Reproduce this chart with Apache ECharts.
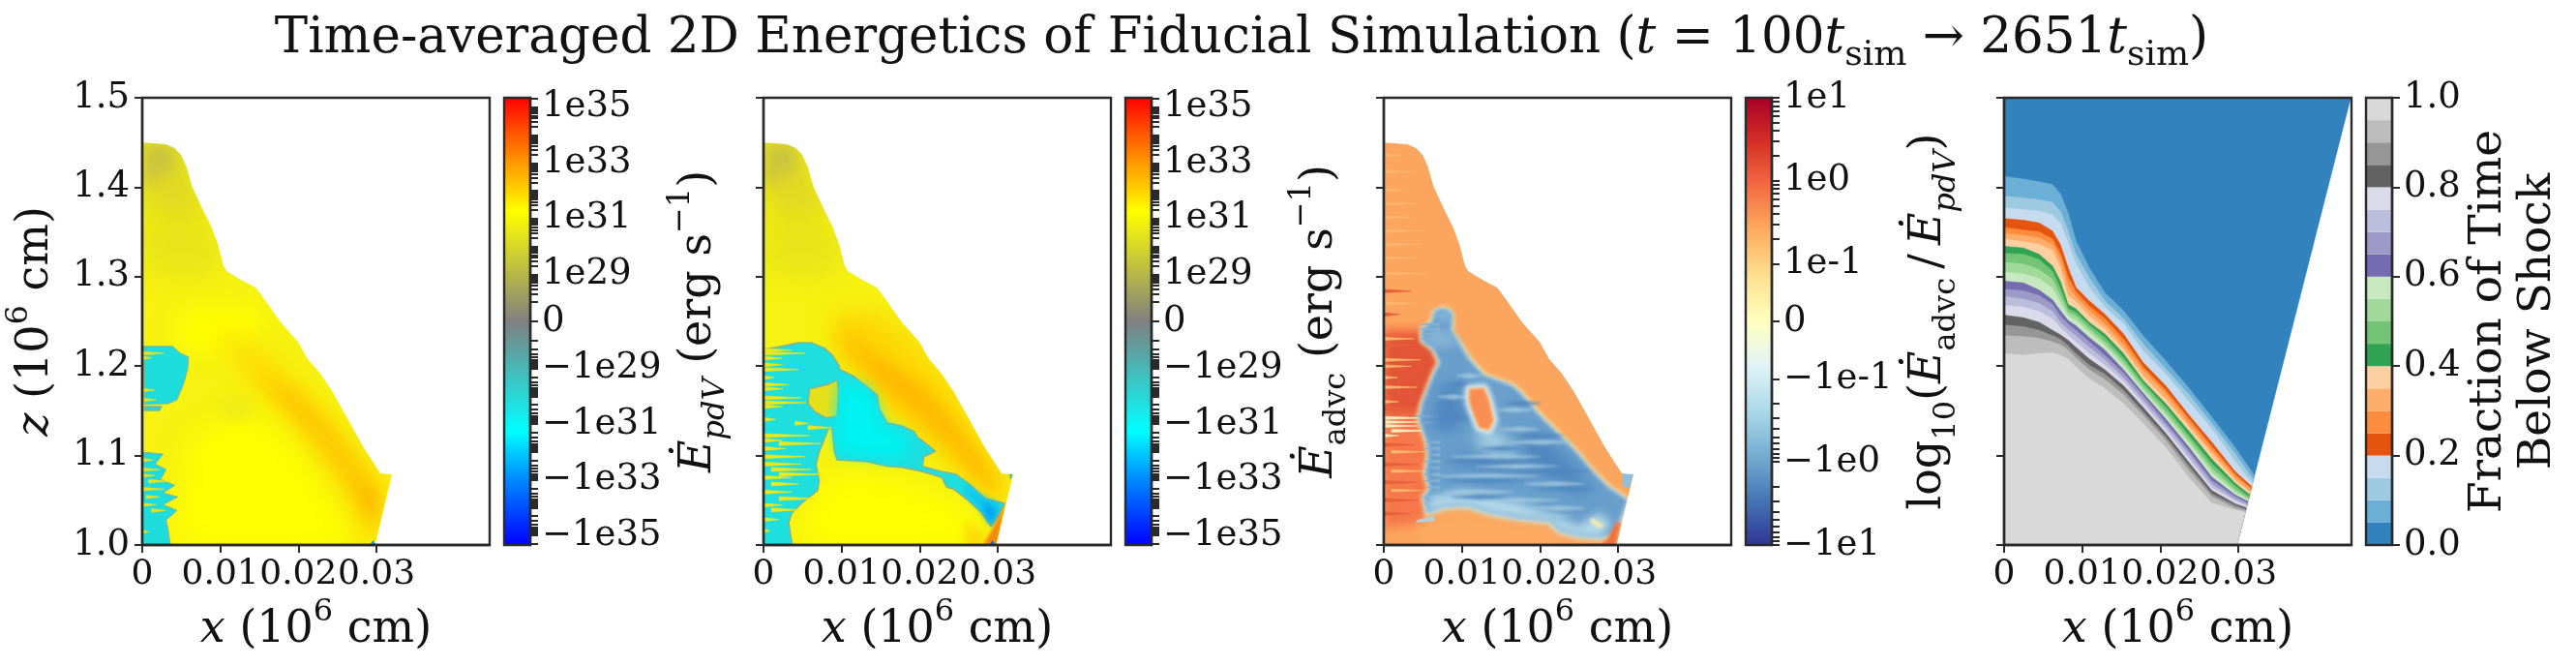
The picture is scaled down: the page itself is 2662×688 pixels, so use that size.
<!DOCTYPE html>
<html>
<head>
<meta charset="utf-8">
<script src="https://cdn.jsdelivr.net/npm/echarts@6/dist/echarts.min.js"></script>
<style>html,body{margin:0;background:#fff}#main{width:2662px;height:688px}</style>
</head>
<body>
<div id="main"></div>
<script>
// all outlines are x, z in units of 10^6 cm
var shockOutline = [[.0002,1.45],[.00305,1.448],[.00416,1.4436],[.005,1.436],[.00566,1.423],[.00638,1.401],[.00776,1.375],[.00887,1.3555],[.0097,1.336],[.01042,1.312],[.0108,1.3064],[.01275,1.296],[.01453,1.288],[.0158,1.273],[.01774,1.249],[.01996,1.2274],[.02118,1.208],[.02273,1.1927],[.0244,1.171],[.02634,1.1406],[.02828,1.1102],[.0305,1.08],[.032,1.079],[.03105,1.045],[.02983,1],[.0002,1]];
var outsideMask = shockOutline.slice(0,25).concat([[.0445,1],[.0445,1.5],[0,1.5],[0,1.45]]);
var topTintA = shockOutline.slice(0,10).concat([[.007,1.3],[.0002,1.305]]);
var topTintB = shockOutline.slice(0,7).concat([[.005,1.372],[.0002,1.385]]);
var topTintC = [[.0002,1.45],[.00305,1.448],[.00416,1.4436],[.0042,1.42],[.002,1.41],[.0002,1.4]];

// panel 1, pdV work
var p1BrightA = [[.00832,1.2665],[.01442,1.2665],[.01608,1.249],[.01275,1.2274],[.00776,1.2144],[.00388,1.2318],[.00499,1.2578]];
var p1BrightB = [[.0061,1.119],[.01275,1.145],[.01719,1.1276],[.02163,1.0799],[.02551,1.0321],[.028,1],[.00388,1],[.00499,1.0451]];
var p1DimBlob = [[.00998,1.1623],[.01331,1.1667],[.01442,1.1493],[.01275,1.1406],[.01054,1.145]];
var p1BandOuter = [[.01054,1.2448],[.01497,1.2231],[.01996,1.184],[.0244,1.145],[.02773,1.1059],[.03039,1.0777],[.03105,1.0451],[.02983,1],[.02828,1],[.02662,1.0408],[.02329,1.0929],[.01941,1.1406],[.01497,1.1753],[.01109,1.21],[.00943,1.2318]];
var p1BandMid = [[.01275,1.2166],[.01719,1.1927],[.02163,1.158],[.02551,1.1189],[.02828,1.0885],[.03039,1.0712],[.03061,1.0365],[.02972,1.0061],[.02883,1.0061],[.02828,1.0365],[.02551,1.0755],[.02163,1.1189],[.01719,1.1623],[.01359,1.1927]];
var p1BandInner = [[.01608,1.1862],[.01996,1.1667],[.02384,1.1319],[.02717,1.0929],[.02994,1.0582],[.02966,1.0234],[.02856,1.0365],[.02551,1.0842],[.02163,1.1276],[.01774,1.1623]];
var p1BandCore = [[.02773,1.0712],[.02994,1.0538],[.0295,1.0278],[.02856,1.0451]];
var p1CyanBlob = [[.00017,1.2222],[.00388,1.2222],[.00488,1.2144],[.00593,1.2101],[.00582,1.197],[.00527,1.1797],[.00444,1.1623],[.00333,1.158],[.00028,1.1571]];
var p1CyanSmall = [[.00028,1.1549],[.0025,1.1549],[.00222,1.1502],[.00028,1.1502]];
var p1CyanLow = [[0,1],[.0036,1],[.00333,1.0169],[.00305,1.0278],[.00444,1.0386],[.00266,1.0451],[.00455,1.0538],[.00266,1.0582],[.00416,1.0668],[.00233,1.0733],[.00305,1.0842],[.00166,1.0907],[.00266,1.1016],[.00017,1.1037]];
var p1BlueSpot = [[.0292,1],[.02958,1.005],[.02983,1]];
var p1YellowStreaks = [[1.095,0,.0014],[1.0842,0,.0022],[1.0777,0,.0016],[1.0712,.0008,.0035],[1.0625,0,.0028],[1.0538,.0005,.0022],[1.0451,0,.0018],[1.0386,.0012,.003],[1.0148,0,.0008],[1.2144,0,.0028],[1.2092,0,.0012],[1.1732,0,.0016],[1.1623,0,.0018]];

// panel 2, advection
var p2Bright = [[.009,1.079],[.01726,1.0718],[.02263,1.0537],[.02635,1.0321],[.02841,1.0105],[.02676,1],[.00446,1],[.0057,1.0393]];
var p2LowOrange = [[.02594,1.0249],[.02841,1.0105],[.02903,1.0105],[.02821,1],[.02594,1]];
var p2BandOuter = [[.0089,1.2578],[.01113,1.2621],[.01558,1.2578],[.01892,1.2318],[.02226,1.2014],[.02449,1.1753],[.02727,1.1276],[.03033,1.0799],[.03144,1.0625],[.031,1.0451],[.02977,1.0451],[.02727,1.0668],[.02449,1.0842],[.02226,1.1016],[.01976,1.1233],[.01614,1.145],[.01447,1.171],[.01224,1.1927],[.01002,1.2014],[.0089,1.2318]];
var p2BandMid = [[.00974,1.2404],[.01224,1.2318],[.01614,1.2014],[.02003,1.1797],[.02337,1.1493],[.02671,1.1102],[.02977,1.0712],[.03033,1.0538],[.02838,1.0625],[.02504,1.0972],[.0217,1.1233],[.01781,1.1536],[.01503,1.1753],[.01224,1.2014],[.0103,1.2187]];
var p2BandInner = [[.0128,1.2144],[.01558,1.2014],[.02003,1.1753],[.02337,1.1406],[.02671,1.1016],[.02922,1.0712],[.02727,1.0842],[.02449,1.1146],[.02115,1.145],[.01725,1.171],[.01391,1.197]];
var p2Cyan = [[.00012,1.2189],[.00198,1.2215],[.00446,1.2262],[.00611,1.2262],[.00776,1.2204],[.0088,1.2125],[.00962,1.2016],[.00983,1.1962],[.01148,1.189],[.01334,1.1764],[.01458,1.1674],[.01479,1.1529],[.01582,1.1367],[.01768,1.1331],[.01933,1.1266],[.01974,1.1205],[.02057,1.1151],[.02201,1.105],[.02057,1.0988],[.02036,1.088],[.02263,1.0826],[.0247,1.079],[.02635,1.0682],[.02841,1.0519],[.03089,1.0465],[.03027,1.0357],[.02916,1.0206],[.028,1.0357],[.02594,1.0519],[.02428,1.0628],[.02346,1.0646],[.02284,1.0754],[.02015,1.0826],[.01768,1.0869],[.01602,1.088],[.01313,1.0934],[.00942,1.0952],[.00909,1.1042],[.0088,1.1295],[.00838,1.1313],[.00714,1.1042],[.00673,1.0898],[.00714,1.0718],[.00694,1.061],[.00487,1.0465],[.00363,1.0357],[.00322,1.0249],[.00363,1.0032],[.00363,1],[0,1],[0,1.219]];
var p2Island = [[.00591,1.1746],[.00838,1.18],[.00942,1.1843],[.00962,1.1692],[.00942,1.1439],[.00797,1.1421],[.00653,1.1493],[.0057,1.1583]];
var p2CyanCore = [[.00983,1.18],[.01313,1.1764],[.01437,1.1583],[.0152,1.1331],[.01768,1.1259],[.01892,1.1078],[.01726,1.097],[.01396,1.0988],[.00962,1.1042],[.00921,1.1295]];
var p2BlueStreak = [[.02594,1.0682],[.02759,1.0555],[.03007,1.0447],[.02924,1.0249],[.028,1.0393],[.02594,1.0574]];
var p2BlueDeep = [[.02821,1.0465],[.02986,1.0393],[.02916,1.0231],[.02841,1.0357]];
var p2Tip = [[.02821,1],[.02924,1.0159],[.03048,1.0375],[.03089,1.0447],[.02986,1]];
var p2BlueSpot = [[.02903,1],[.02932,1.005],[.02965,1]];
var p2Cap = [[.03151,1.0797],[.03192,1.0797],[.03164,1.0736]];
var p2YellowStreaks = [[1.2179,0,.00363],[1.2143,0,.00529],[1.2088,0,.0024],[1.2016,0,.0024],[1.1962,0,.00446],[1.1872,0,.00136],[1.1793,0,.00322],[1.1746,0,.0026],[1.1645,0,.00487],[1.1591,0,.00549],[1.1547,0,.0024],[1.1403,0,.00157],[1.136,.00405,.0057],[1.1313,.0057,.0088],[1.1223,0,.0059],[1.1169,0,.0024],[1.1133,.002,.00735],[1.1078,0,.0028],[1.0988,0,.0053],[1.0905,0,.00487],[1.0844,.001,.0061],[1.079,.002,.00735],[1.0754,0,.00363],[1.0682,.001,.00446],[1.0592,0,.00363],[1.0519,.002,.0067],[1.0447,0,.0024],[1.0393,.001,.00446],[1.0285,0,.002],[1.0159,0,.0008]];

// panel 3, ratio
var p3LeftOrange = [[.00008,1.2413],[.00558,1.2413],[.00764,1.2016],[.0064,1.1764],[.00558,1.1403],[.0064,1.1042],[.0064,1.0682],[.00599,1.0321],[.00351,1.0231],[.00008,1.0195]];
var p3LeftRed = [[.0002,1.2341],[.00558,1.2341],[.00723,1.207],[.00599,1.18],[.00558,1.162],[.00475,1.1475],[.0002,1.1475]];
var p3Bottom = [[.00558,1.0321],[.01054,1.0411],[.01384,1.0339],[.01756,1.0285],[.02128,1.0249],[.02252,1.0141],[.02582,1.0069],[.02789,1.0051],[.02954,1.0069],[.02954,1],[.00351,1]];
var p3Blue = [[.00661,1.2611],[.00764,1.264],[.00855,1.2601],[.00868,1.2503],[.00855,1.2395],[.0095,1.2269],[.01095,1.207],[.01281,1.189],[.01467,1.1836],[.01653,1.1771],[.01756,1.1692],[.01963,1.1475],[.02211,1.1259],[.02459,1.1042],[.02665,1.0826],[.02872,1.0646],[.0312,1.0501],[.03016,1.0267],[.02913,1.0123],[.02789,1.0087],[.025,1.0105],[.02252,1.0159],[.02128,1.0267],[.01756,1.0303],[.01384,1.0357],[.01054,1.0447],[.00764,1.0429],[.00558,1.0357],[.00517,1.0537],[.00599,1.0628],[.00537,1.079],[.00578,1.1006],[.00558,1.1151],[.00455,1.1403],[.00496,1.1583],[.00578,1.1764],[.00661,1.1944],[.00723,1.2034],[.0064,1.2197],[.00496,1.2287],[.00496,1.2413],[.0062,1.2485]];
var p3LightRing = [[.0119,1.1247],[.01467,1.1283],[.01591,1.1139],[.01756,1.1031],[.01508,1.0995],[.0119,1.1103]];
var p3LightLow = [[.00599,1.0537],[.01012,1.0609],[.01384,1.0537],[.01756,1.0465],[.02211,1.0321],[.025,1.0213],[.02748,1.0357],[.02913,1.0249],[.02789,1.0087],[.025,1.0105],[.02252,1.0159],[.02128,1.0267],[.01756,1.0303],[.01384,1.0357],[.01054,1.0447],[.00764,1.0429],[.00558,1.0357]];
var p3LightTop = [[.00661,1.2611],[.00855,1.2601],[.00868,1.2503],[.00661,1.2521]];
var p3LightUpper = [[.00516,1.2413],[.00847,1.2395],[.0097,1.2233],[.0064,1.2197]];
var p3DarkA = [[.00723,1.1764],[.0097,1.18],[.01054,1.1403],[.00847,1.1259],[.00599,1.1331]];
var p3DarkB = [[.01756,1.1259],[.02087,1.1187],[.025,1.0826],[.02665,1.0537],[.02417,1.0609],[.02004,1.0826],[.01797,1.1042]];
var p3DarkC = [[.00888,1.1006],[.01591,1.097],[.02004,1.0826],[.01674,1.079],[.00929,1.0898]];
var p3Island = [[.01095,1.1746],[.01281,1.1753],[.01343,1.1627],[.01405,1.1392],[.01343,1.1287],[.01219,1.1316],[.01148,1.1467],[.01095,1.1604]];
var p3Tip = [[.02789,1],[.02954,1],[.03029,1.0249],[.02975,1.0249],[.02872,1.0069]];
var p3Cap = [[.03058,1.0797],[.03194,1.0797],[.0314,1.0638],[.03066,1.0653]];
var p3LowPatch = [[.00434,1.0278],[.0064,1.0321],[.0064,1.0267],[.00413,1.0256]];
var p3CreamSpot = [[.02665,1.0303],[.0281,1.0213],[.02748,1.0195],[.02644,1.0267]];
var p3PaleStreaks = [[1.4357,0,.0023],[1.4175,0,.0035],[1.3967,0,.0028],[1.3815,0,.0042],[1.3663,0,.0038],[1.3511,0,.0052],[1.3359,0,.0048],[1.3207,0,.0042],[1.3034,0,.0055],[1.27,0,.004],[1.2702,0,.0033],[1.2305,0,.0039],[1.207,0,.0047],[1.1998,0,.0035],[1.1872,0,.0018],[1.1764,0,.0043],[1.1602,0,.0019],[1.1042,.001,.0052],[1.0826,.001,.0056],[1.061,.001,.0048]];
var p3CreamStreaks = [[1.1421,0,.0056],[1.1374,0,.0047],[1.1331,0,.0043],[1.1277,.001,.0062],[1.1223,0,.0019]];
var p3RedStreaks = [[1.2838,0,.0035],[1.2578,0,.002],[1.2233,0,.0045],[1.1529,0,.0047],[1.112,0,.004],[1.09,0,.0045],[1.07,0,.0042],[1.05,0,.0044],[1.035,0,.0035]];
var p3BlueJags = [[1.2467,.0072,.0048],[1.2413,.0072,.0046],[1.2359,.0072,.0048],[1.2305,.0072,.0048],[1.2251,.0072,.0052],[1.1439,.0072,.0039],[1.1367,.0072,.0048],[1.1151,.0072,.0054],[1.1078,.0072,.0052],[1.1006,.0072,.0056],[1.0934,.0072,.0052],[1.0862,.0072,.0056],[1.079,.0072,.0052],[1.0718,.0072,.0052],[1.0646,.0072,.0054],[1.0537,.0072,.0048],[1.0465,.0072,.0052]];
var p3LightFlecks = [[1.189,.0093,.0126],[1.1656,.0068,.011],[1.1511,.0143,.0192],[1.1295,.0147,.02],[1.1151,.0159,.0242],[1.0988,.0085,.02],[1.088,.0118,.0225],[1.0772,.0064,.02],[1.0682,.018,.0258],[1.0592,.0076,.0167],[1.0501,.0118,.0225],[1.0411,.0188,.0258],[1.0321,.0159,.0242]];
var p3DarkFlecks = [[1.18,.008,.012],[1.1583,.0155,.02],[1.1421,.0075,.0135],[1.1223,.0175,.023],[1.1078,.0125,.018],[1.0934,.0076,.019],[1.0826,.017,.0265],[1.0718,.008,.018],[1.0628,.019,.027],[1.0537,.0085,.016]];

// panel 4, contour heights z at each station of fracX, top level first, plus the end on the shock edge
var fracX = [0,.0025,.0045,.0062,.0072,.0082,.0092,.0109,.0129,.0153,.0178,.0207,.0237,.0266,.0296];
var fracLevels = [
  [1.412,1.409,1.406,1.403,1.393,1.371,1.340,1.310,1.282,1.262,1.234,1.206,1.175,1.143,1.109],
  [1.390,1.388,1.386,1.383,1.373,1.351,1.325,1.299,1.273,1.253,1.225,1.197,1.168,1.136,1.102],
  [1.377,1.375,1.373,1.369,1.360,1.338,1.314,1.288,1.266,1.247,1.217,1.191,1.160,1.130,1.093],
  [1.365,1.363,1.360,1.351,1.336,1.310,1.288,1.273,1.258,1.236,1.204,1.178,1.145,1.115,1.082],
  [1.355,1.352,1.350,1.342,1.326,1.299,1.283,1.267,1.253,1.230,1.199,1.173,1.141,1.110,1.079],
  [1.348,1.346,1.343,1.336,1.319,1.290,1.277,1.262,1.247,1.224,1.195,1.169,1.136,1.106,1.076],
  [1.342,1.339,1.336,1.329,1.310,1.279,1.272,1.256,1.242,1.219,1.189,1.163,1.132,1.102,1.072],
  [1.334,1.332,1.325,1.312,1.295,1.269,1.264,1.249,1.236,1.214,1.184,1.158,1.127,1.096,1.069],
  [1.326,1.325,1.319,1.306,1.287,1.264,1.260,1.246,1.232,1.209,1.181,1.154,1.122,1.091,1.066],
  [1.316,1.314,1.308,1.297,1.279,1.260,1.256,1.242,1.227,1.205,1.177,1.149,1.118,1.086,1.062],
  [1.305,1.303,1.298,1.287,1.271,1.256,1.251,1.238,1.223,1.201,1.173,1.145,1.114,1.081,1.059],
  [1.295,1.293,1.285,1.274,1.262,1.251,1.245,1.232,1.218,1.196,1.170,1.141,1.109,1.076,1.056],
  [1.286,1.284,1.279,1.269,1.256,1.247,1.240,1.227,1.212,1.192,1.167,1.137,1.105,1.072,1.054],
  [1.278,1.275,1.270,1.261,1.249,1.241,1.234,1.221,1.207,1.187,1.162,1.133,1.101,1.068,1.051],
  [1.268,1.266,1.261,1.253,1.243,1.235,1.227,1.214,1.201,1.183,1.158,1.129,1.096,1.064,1.049],
  [1.257,1.254,1.249,1.240,1.235,1.229,1.221,1.208,1.196,1.178,1.154,1.125,1.092,1.061,1.046],
  [1.246,1.244,1.240,1.234,1.230,1.223,1.214,1.201,1.191,1.173,1.149,1.121,1.088,1.057,1.044],
  [1.234,1.233,1.231,1.227,1.224,1.218,1.209,1.196,1.185,1.168,1.145,1.117,1.083,1.054,1.041],
  [1.214,1.212,1.214,1.215,1.212,1.208,1.199,1.186,1.175,1.158,1.136,1.109,1.075,1.047,1.039]
];
var fracEnds = [[.03207,1.0777],[.03194,1.0734],[.03181,1.069],[.03171,1.0655],[.03165,1.0634],[.03159,1.0612],[.03152,1.059],[.03145,1.0564],[.03137,1.0538],[.03132,1.0521],[.03127,1.0503],[.03122,1.0486],[.03117,1.0469],[.03112,1.0451],[.03107,1.0434],[.03102,1.0417],[.03097,1.0399],[.03092,1.0382],[.03087,1.0365]];
var wedgeCorners = [[0,1.5],[.0444,1.5],[.0298,1],[0,1]];
var fracColors = ['#3182bd','#6baed6','#9ecae1','#c6dbef','#e6550d','#fd8d3c','#fdae6b','#fdd0a2','#31a354','#74c476','#a1d99b','#c7e9c0','#756bb1','#9e9ac8','#bcbddc','#dadaeb','#636363','#969696','#bdbdbd','#d9d9d9'];

// colour bars
var pdvStops = [[0,'#0000ff'],[.153,'#0090ff'],[.254,'#00ffff'],[.5,'#808080'],[.746,'#ffff00'],[.847,'#ffa000'],[.926,'#ff5000'],[1,'#ff0000']];
var ratioStops = [[0,'#313695'],[.1,'#4575b4'],[.2,'#74add1'],[.3,'#abd9e9'],[.4,'#e0f3f8'],[.5,'#ffffbf'],[.6,'#fee090'],[.7,'#fdae61'],[.8,'#f46d43'],[.9,'#d73027'],[1,'#a50026']];
var pdvDecades = [29,31,33,35];
var ratioDecades = [-1,0,1];
var fracTicks = [0,.2,.4,.6,.8,1];
var xTicks = [0,.01,.02,.03];

var serif = 'DejaVu Serif';
var black = '#111';
var frame = '#2a2a2a';
var tickSize = 37, nameSize = 46;
var blurShift = 4000; // soft layers are drawn off to the side so only their blurred shadow lands on the panel

function wedges(list, h, fill) {
  return list.map(function(s) {
    return {pts: [[s[1], s[0] + h], [s[2], s[0]], [s[1], s[0] - h]], fill: fill};
  });
}
function lenses(list, h, fill) {
  return list.map(function(s) {
    var m = (s[1] + s[2]) / 2;
    return {pts: [[s[1], s[0]], [m, s[0] + h], [s[2], s[0]], [m, s[0] - h]], fill: fill, blur: 3};
  });
}
function lay(pts, fill, stroke, lw) {
  return {pts: pts, fill: fill, stroke: stroke, lw: lw};
}
function soft(pts, fill, blur) {
  return {pts: pts, fill: fill, blur: blur};
}

var cyanEdge = '#8fb08a';
var yellowField = [
  lay(shockOutline, '#f6f212'),
  soft(topTintA, '#e9e41a', 26),
  soft(topTintB, '#e0da26', 24),
  soft(topTintC, '#cdc63e', 14)
];
var layers1 = yellowField.concat([
  soft(p1BrightA, '#ffff00', 26), soft(p1BrightB, '#ffff00', 30), soft(p1DimBlob, '#efeb1c', 14),
  soft(p1BandOuter, '#fce60a', 26), soft(p1BandMid, '#fdd806', 20), soft(p1BandInner, '#fdc804', 16), soft(p1BandCore, '#fdbc02', 12),
  lay(p1CyanBlob, '#1fdcdc', cyanEdge, 1), lay(p1CyanSmall, '#35cfc8', cyanEdge, 1), lay(p1CyanLow, '#1fdcdc', cyanEdge, 1),
  lay(p1BlueSpot, '#0a9ae8')
]).concat(wedges(p1YellowStreaks, .002, '#e4e21e'), [{pts: outsideMask, fill: '#fff', lw: .1}]);

var layers2 = yellowField.concat([
  soft(p2Bright, '#ffff00', 30), soft(p2LowOrange, '#fbd80a', 10),
  soft(p2BandOuter, '#fdd806', 24), soft(p2BandMid, '#fdc404', 18), soft(p2BandInner, '#ffb800', 14),
  lay(p2Cyan, '#1fdede', cyanEdge, 1.5), lay(p2Island, '#e6e01a', cyanEdge, 1.5),
  soft(p2CyanCore, '#00f2f2', 14), soft(p2BlueStreak, '#10c4f0', 6), soft(p2BlueDeep, '#08a0ee', 6),
  soft(p2Tip, '#f28a10', 3), lay(p2BlueSpot, '#0a70e0'), lay(p2Cap, '#5aa8c0')
]).concat(wedges(p2YellowStreaks, .0022, '#ece61a'), [{pts: outsideMask, fill: '#fff', lw: .1}]);

var layers3 = [
  lay(shockOutline, '#fba55e'),
  soft(p3LeftOrange, '#f5774a', 10), soft(p3LeftRed, '#e25537', 10), soft(p3Bottom, '#fca962', 8)
].concat(wedges(p3PaleStreaks, .0016, '#fbb66f'), wedges(p3RedStreaks, .002, '#e8603c'), wedges(p3CreamStreaks, .0016, '#f7ecc0'), [
  {pts: p3Blue, fill: 'none', stroke: '#ffeda8', lw: 6, blur: 4},
  soft(p3Blue, '#cfe6ee', 3),
  soft(p3Blue, '#6a9fcc', 4)
], wedges(p3BlueJags, .0018, '#7fb0d4'), [
  soft(p3DarkA, '#5289c0', 12), soft(p3DarkB, '#5289c0', 14), soft(p3DarkC, '#5289c0', 14),
  soft(p3LightRing, '#a8d0e4', 14), soft(p3LightLow, '#b4d9ea', 8), soft(p3LightTop, '#84b6d8', 6), soft(p3LightUpper, '#85b3d6', 8)
], lenses(p3LightFlecks, .0022, '#a0c8e0'), lenses(p3DarkFlecks, .0022, '#5289c0'), [
  {pts: p3Island, fill: 'none', stroke: '#dceff2', lw: 9, blur: 5},
  {pts: p3Island, fill: '#ffeda8', blur: 3},
  soft(p3Island, '#f98e52', 3),
  soft(p3Tip, '#f0703c', 3), lay(p3Cap, '#8fbfdc'), lay(p3LowPatch, '#a9d3e6'), soft(p3CreamSpot, '#ffeda8', 3),
  {pts: outsideMask, fill: '#fff', lw: .1}
]);

var layers4 = [lay(wedgeCorners, fracColors[0])];
fracLevels.forEach(function(zs, k) {
  var pts = fracX.map(function(x, i) { return [x, zs[i]]; });
  pts.push(fracEnds[k], [.0298, 1], [0, 1]);
  layers4.push(lay(pts, fracColors[k + 1]));
});

function fieldSeries(gridIndex, layers) {
  return {
    type: 'custom', xAxisIndex: gridIndex, yAxisIndex: gridIndex, silent: true, clip: true, z: 2,
    encode: {x: 0, y: 1},
    data: layers.map(function(l, i) { return [i, i]; }),
    renderItem: function(params, api) {
      var l = layers[params.dataIndex];
      var shift = l.blur ? blurShift : 0;
      var points = l.pts.map(function(p) { var c = api.coord(p); return [c[0] - shift, c[1]]; });
      var style = {fill: l.fill, stroke: l.stroke || l.fill, lineWidth: l.lw || .6, lineJoin: 'round'};
      if (l.blur) {
        style.shadowBlur = l.blur;
        style.shadowColor = l.stroke || l.fill;
        style.shadowOffsetX = blurShift;
      }
      return {type: 'polygon', shape: {points: points}, style: style};
    }
  };
}

// colour bar axes run in symlog units, linear inside the threshold
function symlog(v, thresh) {
  var a = Math.abs(v) / thresh;
  var s = a < 1 ? a * .69 : Math.log10(a) + .69;
  return v < 0 ? -s : s;
}
function symlogTicks(topDecade, thresh) {
  var out = [0];
  var first = Math.round(Math.log10(thresh));
  for (var d = first; d <= topDecade; d++) {
    for (var m = 1; m < 10; m++) {
      if (d == topDecade && m > 2) continue;
      var s = symlog(m * Math.pow(10, d), thresh);
      out.push(s, -s);
    }
  }
  return out;
}

function gradientSeries(gridIndex, stops, lo, hi) {
  var colorStops = stops.map(function(s) { return {offset: 1 - s[0], color: s[1]}; }).reverse();
  return {
    type: 'custom', xAxisIndex: gridIndex, yAxisIndex: gridIndex, silent: true, z: 2,
    encode: {x: 0, y: 1}, data: [[0, 0]],
    renderItem: function(params, api) {
      var a = api.coord([0, hi]), b = api.coord([1, lo]);
      return {type: 'rect', shape: {x: a[0], y: a[1], width: b[0] - a[0], height: b[1] - a[1]},
        style: {fill: new echarts.graphic.LinearGradient(0, 0, 0, 1, colorStops)}};
    }
  };
}
function stepSeries(gridIndex, colors) {
  return {
    type: 'custom', xAxisIndex: gridIndex, yAxisIndex: gridIndex, silent: true, z: 2,
    encode: {x: 0, y: 1}, data: colors.map(function(c, i) { return [0, i]; }),
    renderItem: function(params, api) {
      var i = params.dataIndex, n = colors.length;
      var a = api.coord([0, (i + 1) / n]), b = api.coord([1, i / n]);
      return {type: 'rect', shape: {x: a[0], y: a[1], width: b[0] - a[0], height: b[1] - a[1]},
        style: {fill: colors[i]}};
    }
  };
}

var rich = {
  b: {fontFamily: serif, fontSize: nameSize, color: black, lineHeight: 68},
  i: {fontFamily: serif, fontSize: nameSize, fontStyle: 'italic', color: black, lineHeight: 68},
  up: {fontFamily: serif, fontSize: 32, color: black, verticalAlign: 'top', lineHeight: 68},
  lo: {fontFamily: serif, fontSize: 32, color: black, verticalAlign: 'bottom', lineHeight: 68},
  loi: {fontFamily: serif, fontSize: 32, fontStyle: 'italic', color: black, verticalAlign: 'bottom', lineHeight: 68}
};
var xName = '{i|x}{b| (10}{up|6}{b| cm)}';
var zName = '{i|z}{b| (10}{up|6}{b| cm)}';
var pdvName = '{i|Ė}{loi|pdV}{b| (erg s}{up|−1}{b|)}';
var advName = '{i|Ė}{lo|advc}{b| (erg s}{up|−1}{b|)}';
var ratioName = '{b|log}{lo|10}{b|(}{i|Ė}{lo|advc}{b|\u2009/\u2009}{i|Ė}{loi|pdV}{b|)}';
var fracName = 'Fraction of Time\nBelow Shock';

var panelLefts = [147, 789, 1430, 2071];
var barLefts = [521, 1163, 1804, 2445];
var plotTop = 101, plotH = 462, plotW = 359, barW = 27;

var grids = [], xAxes = [], yAxes = [], series = [];
var tickBase = {length: 8, lineStyle: {color: frame, width: 2}};
var lineBase = {show: true, onZero: false, lineStyle: {color: frame, width: 2.4}};
var labelBase = {fontFamily: serif, fontSize: tickSize, color: black, padding: [8, 0, 0, 0]};

panelLefts.forEach(function(left, i) {
  grids.push({left: left, top: plotTop, width: plotW, height: plotH, show: true, z: 5, outerBoundsMode: 'none',
    backgroundColor: 'transparent', borderColor: frame, borderWidth: 2.4});
  xAxes.push({gridIndex: grids.length - 1, type: 'value', min: 0, max: .0445, z: 6, splitLine: {show: false},
    axisLine: lineBase, axisTick: Object.assign({customValues: xTicks}, tickBase),
    axisLabel: {customValues: xTicks, margin: 13, fontFamily: serif, fontSize: 36, color: black, formatter: function(v) { return v == 0 ? '0' : v.toFixed(2); }},
    name: xName, nameLocation: 'middle', nameGap: 52, nameTextStyle: {rich: rich, lineHeight: 68}});
  yAxes.push({gridIndex: grids.length - 1, type: 'value', min: 1, max: 1.5, interval: .1, z: 6, splitLine: {show: false},
    axisLine: lineBase, axisTick: tickBase,
    axisLabel: Object.assign({show: i == 0, margin: 13, formatter: function(v) { return v.toFixed(1); }}, labelBase),
    name: i == 0 ? zName : '', nameLocation: 'middle', nameRotate: 90, nameGap: 72, nameTextStyle: {rich: rich, lineHeight: 68}});
});
series.push(fieldSeries(0, layers1), fieldSeries(1, layers2), fieldSeries(2, layers3), fieldSeries(3, layers4));

function addBar(left, opt) {
  grids.push({left: left, top: plotTop, width: barW, height: plotH, show: true, z: 5, outerBoundsMode: 'none',
    backgroundColor: 'transparent', borderColor: frame, borderWidth: 2.4});
  var g = grids.length - 1;
  xAxes.push({gridIndex: g, type: 'value', min: 0, max: 1, show: false});
  var nameStyle = opt.plainName
    ? {lineHeight: 51, fontFamily: serif, fontSize: 47, color: black}
    : {rich: rich, lineHeight: 68};
  yAxes.push({gridIndex: g, type: 'value', min: opt.min, max: opt.max, position: 'right', z: 6, splitLine: {show: false},
    axisLine: lineBase, axisTick: Object.assign({customValues: opt.ticks}, tickBase),
    axisLabel: Object.assign({customValues: opt.labels, margin: 12, formatter: opt.format}, labelBase),
    name: opt.name, nameLocation: 'middle', nameRotate: 90, nameGap: opt.gap, nameTextStyle: nameStyle});
  return g;
}
function decadeLabels(decades, thresh) {
  var map = {};
  decades.forEach(function(d) {
    var s = symlog(Math.pow(10, d), thresh);
    map[s.toFixed(3)] = '1e' + d;
    map[(-s).toFixed(3)] = '−1e' + d;
  });
  return map;
}
function labelPositions(decades, thresh) {
  var out = [0];
  decades.forEach(function(d) { var s = symlog(Math.pow(10, d), thresh); out.push(s, -s); });
  return out;
}

var pdvMap = decadeLabels(pdvDecades, 1e28);
var pdvFormat = function(v) { return v == 0 ? '0' : pdvMap[v.toFixed(3)]; };
var g1 = addBar(barLefts[0], {min: -8.03, max: 8.03, ticks: symlogTicks(35, 1e28), labels: labelPositions(pdvDecades, 1e28), format: pdvFormat, name: pdvName, gap: 140});
series.push(gradientSeries(g1, pdvStops, -8.03, 8.03));
var g2 = addBar(barLefts[1], {min: -8.03, max: 8.03, ticks: symlogTicks(35, 1e28), labels: labelPositions(pdvDecades, 1e28), format: pdvFormat, name: advName, gap: 140});
series.push(gradientSeries(g2, pdvStops, -8.03, 8.03));
var ratioMap = decadeLabels(ratioDecades, .1);
var g3 = addBar(barLefts[2], {min: -2.69, max: 2.69, ticks: symlogTicks(1, .1), labels: labelPositions(ratioDecades, .1), format: function(v) { return v == 0 ? '0' : ratioMap[v.toFixed(3)]; }, name: ratioName, gap: 114});
series.push(gradientSeries(g3, ratioStops, -2.69, 2.69));
var g4 = addBar(barLefts[3], {min: 0, max: 1, ticks: fracTicks, labels: fracTicks, format: function(v) { return v.toFixed(1); }, name: fracName, gap: 72, plainName: true});
series.push(stepSeries(g4, fracColors));

var titleStyle = {fontFamily: serif, fontSize: 51.5, fontWeight: 'normal', color: black, lineHeight: 70};
var titleRich = {
  a: titleStyle,
  t: Object.assign({}, titleStyle, {fontStyle: 'italic'}),
  s: {fontFamily: serif, fontSize: 36, fontWeight: 'normal', color: black, verticalAlign: 'bottom', lineHeight: 70}
};

var chart = echarts.init(document.getElementById('main'), null, {renderer: 'canvas'});
chart.setOption({
  animation: false,
  backgroundColor: '#fff',
  title: {
    text: '{a|Time-averaged 2D Energetics of Fiducial Simulation (}{t|t}{a| = 100}{t|t}{s|sim}{a| → 2651}{t|t}{s|sim}{a|)}',
    left: 1278, top: 1, textAlign: 'center', textStyle: {rich: titleRich, fontWeight: 'normal'}
  },
  grid: grids, xAxis: xAxes, yAxis: yAxes, series: series
});
</script>
</body>
</html>
